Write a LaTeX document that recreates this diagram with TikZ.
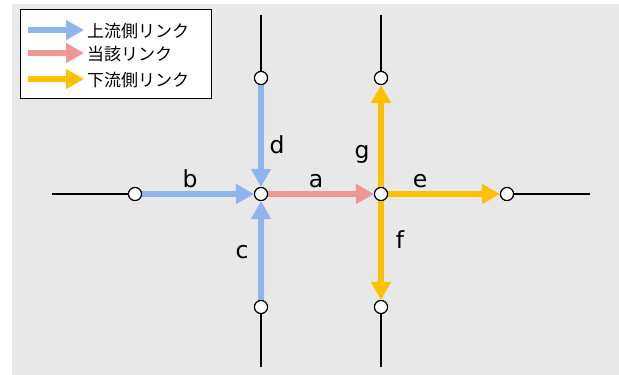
\documentclass[tikz,border=0pt]{standalone}
\usepackage{fontspec}
\setmainfont{DejaVu Sans}
\newfontfamily\cjk{Noto Sans CJK JP}
\usetikzlibrary{arrows.meta}
\definecolor{upc}{RGB}{143,180,240}
\definecolor{curc}{RGB}{240,150,150}
\definecolor{downc}{RGB}{255,192,0}
\definecolor{bgc}{RGB}{232,232,232}
\begin{document}
\begin{tikzpicture}[x=1pt,y=-1pt,
  jn/.style={circle,draw=black,fill=white,line width=1.1pt,minimum size=13pt,inner sep=0pt},
  road/.style={line width=1.8pt,black},
  lk/.style={line width=6pt,-{Triangle[length=18pt,width=19pt]}},
  lbl/.style={font=\fontsize{23.5}{26}\selectfont,inner sep=0pt},
  legtxt/.style={font=\cjk\fontsize{17}{19}\selectfont,anchor=west,inner sep=0pt}]
\useasboundingbox (0,0) rectangle (619,375);
\fill[bgc] (12,4) rectangle (619,375);
% legend
\node[draw=black,fill=white,line width=1pt,minimum width=191pt,minimum height=89pt,inner sep=0pt,anchor=north west] (leg) at (20,9) {};
\coordinate (l1s) at (28,30); \coordinate (l1e) at (84,30);
\coordinate (l2s) at (28,53); \coordinate (l2e) at (84,53);
\coordinate (l3s) at (28,79); \coordinate (l3e) at (84,79);
\draw[lk,upc] (l1s) -- (l1e);
\draw[lk,curc] (l2s) -- (l2e);
\draw[lk,downc] (l3s) -- (l3e);
\node[legtxt] (t1) at (87,31) {上流側リンク};
\node[legtxt] (t2) at (87,54) {当該リンク};
\node[legtxt] (t3) at (87,80) {下流側リンク};
% coordinates of road ends
\coordinate (wend) at (52,194);
\coordinate (eend) at (590,194);
\coordinate (n1end) at (261,15);
\coordinate (n2end) at (381,15);
\coordinate (s1end) at (261,367);
\coordinate (s2end) at (381,367);
% junction nodes
\node[jn] (J1) at (261,194) {};
\node[jn] (J2) at (381,194) {};
\node[jn] (W) at (135,194) {};
\node[jn] (E) at (507,194) {};
\node[jn] (N1) at (261,78) {};
\node[jn] (N2) at (381,78) {};
\node[jn] (S1) at (261,307) {};
\node[jn] (S2) at (381,307) {};
% black roads
\draw[road] (wend) -- (W);
\draw[road] (eend) -- (E);
\draw[road] (n1end) -- (N1);
\draw[road] (n2end) -- (N2);
\draw[road] (s1end) -- (S1);
\draw[road] (s2end) -- (S2);
% links
\draw[lk,upc] (W) -- (J1);
\draw[lk,upc] (N1) -- (J1);
\draw[lk,upc] (S1) -- (J1);
\draw[lk,curc] (J1) -- (J2);
\draw[lk,downc] (J2) -- (E);
\draw[lk,downc] (J2) -- (N2);
\draw[lk,downc] (J2) -- (S2);
% redraw junction circles on top
\foreach \n in {J1,J2,W,E,N1,N2,S1,S2} \node[jn] at (\n) {};
% labels
\node[lbl] (lb) at (190,179) {b};
\node[lbl] (la) at (316,181) {a};
\node[lbl] (le) at (420,181) {e};
\node[lbl] (ld) at (277,145) {d};
\node[lbl] (lg) at (362,154) {g};
\node[lbl] (lc) at (242,252) {c};
\node[lbl] (lf) at (400,240) {f};
\end{tikzpicture}
\end{document}
